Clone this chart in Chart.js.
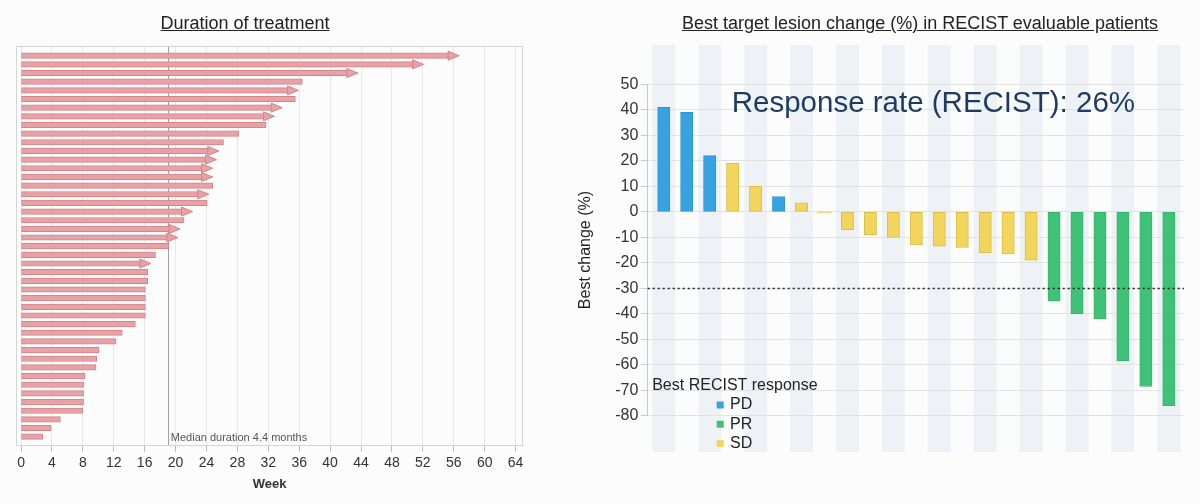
<!DOCTYPE html>
<html>
<head>
<meta charset="utf-8">
<script src="https://cdn.jsdelivr.net/npm/chart.js@4.4.1/dist/chart.umd.min.js"></script>
<style>
  body { margin: 0; background: #fcfcfc; width: 1200px; height: 504px; position: relative; overflow: hidden;
         font-family: "Liberation Sans", Arial, sans-serif; }
  canvas { position: absolute; top: 0; }
  #durChart { left: 0; }
  #lesionChart { left: 560px; }
  .title { position: absolute; top: 13px; font-size: 18px; color: #222; text-decoration: underline;
           white-space: nowrap; transform: translateX(-50%); }
</style>
</head>
<body>
<canvas id="durChart" width="560" height="504"></canvas>
<canvas id="lesionChart" width="640" height="504"></canvas>
<div class="title" style="left:245px">Duration of treatment</div>
<div class="title" style="left:920px">Best target lesion change (%) in RECIST evaluable patients</div>
<script>
const FONT = '"Liberation Sans", Arial, sans-serif';

// duration of treatment in weeks, one row per patient (longest on top)
const weeks = [55.4, 50.8, 42.3, 36.4, 34.6, 35.5, 32.5, 31.5, 31.7, 28.2,
               26.2, 24.3, 24.0, 23.5, 23.5, 24.8, 23.0, 24.1, 20.9, 21.1,
               19.3, 19.0, 19.1, 17.4, 15.5, 16.4, 16.4, 16.1, 16.1, 16.1,
               16.1, 14.8, 13.1, 12.3, 10.1, 9.8, 9.7, 8.3, 8.1, 8.1,
               8.1, 8.0, 5.1, 3.9, 2.8];
// 1 = still on treatment (arrow)
const ongoing = [1, 1, 1, 0, 1, 0, 1, 1, 0, 0,
                 0, 1, 1, 1, 1, 0, 1, 0, 1, 0,
                 1, 1, 0, 0, 1, 0, 0, 0, 0, 0,
                 0, 0, 0, 0, 0, 0, 0, 0, 0, 0,
                 0, 0, 0, 0, 0];
const weekTicks = [0, 4, 8, 12, 16, 20, 24, 28, 32, 36, 40, 44, 48, 52, 56, 60, 64];
const medianWeek = 19;

// best target lesion change (%) per patient
const changes = [41, 39, 22, 19, 10, 6, 3.5, -0.4, -7, -9, -10, -13, -13.5, -14, -16, -16.5, -19,
                 -35, -40, -42, -58.5, -68.5, -76];
const responses = ['PD', 'PD', 'PD', 'SD', 'SD', 'PD', 'SD', 'SD', 'SD', 'SD', 'SD', 'SD', 'SD', 'SD', 'SD', 'SD', 'SD',
                   'PR', 'PR', 'PR', 'PR', 'PR', 'PR'];
const changeTicks = [50, 40, 30, 20, 10, 0, -10, -20, -30, -40, -50, -60, -70, -80];
const responseThreshold = -30;
const responseCats = ['PD', 'PR', 'SD'];
const responseColors = { PD: '#36a2df', PR: '#3fc277', SD: '#f2d55d' };
const responseBorders = { PD: '#2f96d2', PR: '#37b56c', SD: '#dcbf45' };

// ---------- left: swimmer-style duration bars ----------
const swimmerExtras = {
  id: 'swimmerExtras',
  beforeDatasetsDraw(chart) {
    const { ctx, chartArea: a, scales: { x } } = chart;
    const mx = Math.round(x.getPixelForValue(medianWeek)) + 0.5;
    ctx.save();
    ctx.strokeStyle = '#a0a0a0';
    ctx.lineWidth = 1;
    ctx.beginPath();
    ctx.moveTo(mx, a.top);
    ctx.lineTo(mx, a.bottom);
    ctx.stroke();
    ctx.restore();
  },
  afterDatasetsDraw(chart) {
    const { ctx } = chart;
    const meta = chart.getDatasetMeta(0);
    ctx.save();
    ctx.fillStyle = '#e8a1a4';
    ctx.strokeStyle = '#d3858a';
    ctx.lineWidth = 1;
    meta.data.forEach((bar, i) => {
      if (!ongoing[i]) return;
      ctx.beginPath();
      ctx.moveTo(bar.x - 1, bar.y - 4.5);
      ctx.lineTo(bar.x + 10, bar.y);
      ctx.lineTo(bar.x - 1, bar.y + 4.5);
      ctx.closePath();
      ctx.fill();
      ctx.stroke();
    });
    ctx.restore();
  },
  afterDraw(chart) {
    const { ctx, chartArea: a, scales: { x } } = chart;
    ctx.save();
    ctx.strokeStyle = '#d4d4d4';
    ctx.lineWidth = 1;
    ctx.strokeRect(Math.round(a.left) + 0.5, Math.round(a.top) + 0.5,
                   Math.round(a.width) - 1, Math.round(a.height) - 1);
    ctx.fillStyle = '#555';
    ctx.font = '11px ' + FONT;
    ctx.textBaseline = 'middle';
    ctx.fillText('Median duration 4.4 months', x.getPixelForValue(medianWeek) + 3, a.bottom - 7.5);
    ctx.restore();
  }
};

new Chart(document.getElementById('durChart'), {
  type: 'bar',
  data: {
    datasets: [{
      data: weeks.map((w, i) => ({ x: w, y: i })),
      backgroundColor: '#e8a1a4',
      borderColor: '#d3858a',
      borderWidth: 1,
      borderSkipped: false,
      barThickness: 5.5,
    }],
  },
  options: {
    indexAxis: 'y',
    responsive: false,
    animation: false,
    layout: { padding: { left: 16, top: 46, right: 36.7, bottom: 0 } },
    plugins: { legend: { display: false }, tooltip: { enabled: false } },
    scales: {
      x: {
        type: 'linear',
        min: -0.65,
        max: 65,
        afterBuildTicks: s => { s.ticks = weekTicks.map(v => ({ value: v })); },
        afterFit: s => { s.height = 58.3; },
        grid: { color: '#e8e8e8', tickLength: 6, tickColor: '#bbb' },
        border: { color: '#c8c8c8' },
        ticks: { font: { family: FONT, size: 14 }, color: '#333', padding: 3, maxRotation: 0, autoSkip: false },
        title: { display: true, text: 'Week', font: { family: FONT, size: 13, weight: 'bold' }, color: '#333',
                 padding: { top: 0, bottom: 12 } },
      },
      y: { type: 'linear', reverse: true, offset: false, min: -1.12, max: 45.04, display: false },
    },
  },
  plugins: [swimmerExtras],
});

// ---------- right: waterfall of best lesion change ----------
const waterfallExtras = {
  id: 'waterfallExtras',
  beforeDraw(chart) {
    const { ctx, scales: { x, y } } = chart;
    const top = y.getPixelForValue(65.4), bottom = y.getPixelForValue(-94.2);
    ctx.save();
    ctx.fillStyle = '#eef2f6';
    changes.forEach((c, i) => {
      if (i % 2) return;
      const x0 = x.getPixelForValue(i - 0.5), x1 = x.getPixelForValue(i + 0.5);
      ctx.fillRect(x0, top, x1 - x0, bottom - top);
    });
    ctx.restore();
  },
  afterDatasetsDraw(chart) {
    const { ctx, chartArea: a, scales: { y } } = chart;
    ctx.save();
    // PR threshold
    const ty = Math.round(y.getPixelForValue(responseThreshold)) + 0.5;
    ctx.strokeStyle = '#222';
    ctx.lineWidth = 1.3;
    ctx.setLineDash([2, 3]);
    ctx.beginPath();
    ctx.moveTo(a.left, ty);
    ctx.lineTo(a.right, ty);
    ctx.stroke();
    ctx.setLineDash([]);

    ctx.fillStyle = '#1d3b5e';
    ctx.font = '29.5px ' + FONT;
    ctx.textBaseline = 'alphabetic';
    ctx.fillText('Response rate (RECIST): 26%', a.left + 84, a.top + 27.4);

    // legend
    ctx.fillStyle = '#222';
    ctx.font = '16px ' + FONT;
    ctx.textBaseline = 'middle';
    ctx.fillText('Best RECIST response', a.left + 4.5, a.bottom - 29.8);
    responseCats.forEach((cat, k) => {
      const cy = a.bottom - 10.8 + k * 19.2;
      ctx.fillStyle = responseColors[cat];
      ctx.fillRect(a.left + 69, cy - 3.5, 7, 7);
      ctx.fillStyle = '#222';
      ctx.fillText(cat, a.left + 82.3, cy);
    });
    ctx.restore();
  }
};

new Chart(document.getElementById('lesionChart'), {
  type: 'bar',
  data: {
    datasets: [{
      data: changes.map((c, i) => ({ x: i, y: c })),
      backgroundColor: responses.map(r => responseColors[r]),
      borderColor: responses.map(r => responseBorders[r]),
      borderWidth: 1,
      borderSkipped: false,
      barThickness: 12.3,
    }],
  },
  options: {
    responsive: false,
    animation: false,
    layout: { padding: { left: 0, top: 84.3, right: 16, bottom: 88.2 } },
    plugins: { legend: { display: false }, tooltip: { enabled: false } },
    scales: {
      x: { type: 'linear', offset: false, min: -0.70, max: 22.66, display: false },
      y: {
        min: -80,
        max: 50,
        afterBuildTicks: s => { s.ticks = changeTicks.map(v => ({ value: v })); },
        afterFit: s => { s.width = 87.7; },
        grid: { color: '#e2e2e2', tickLength: 7, tickColor: '#ccc' },
        border: { color: '#c8c8c8' },
        ticks: { font: { family: FONT, size: 16 }, color: '#333', padding: 2.4 },
        title: { display: true, text: 'Best change (%)', font: { family: FONT, size: 16 }, color: '#222',
                 padding: { top: 16, bottom: 0 } },
      },
    },
  },
  plugins: [waterfallExtras],
});
</script>
</body>
</html>
